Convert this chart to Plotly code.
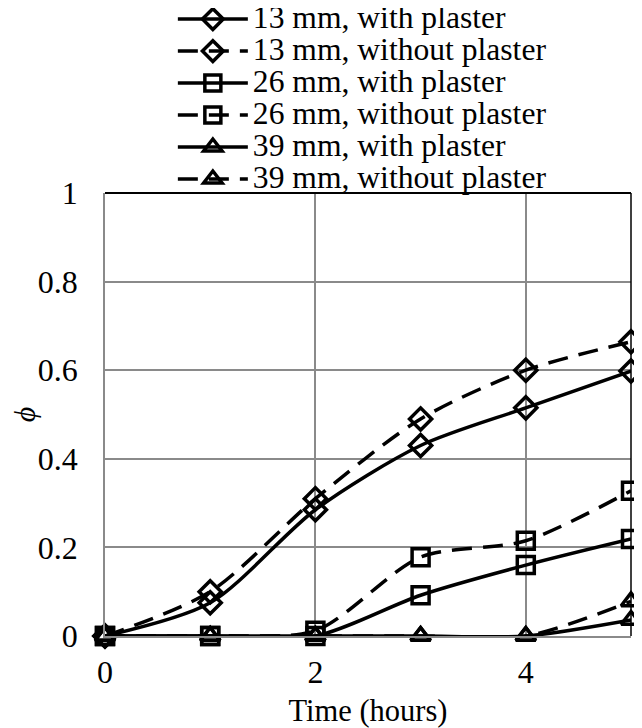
import plotly.graph_objects as go

time_h = [0, 1, 2, 3, 4, 5]
mm13_with = [0, 0.075, 0.285, 0.43, 0.515, 0.598]
mm13_without = [0, 0.10, 0.31, 0.49, 0.60, 0.664]
mm26_with = [0, 0, 0, 0.092, 0.16, 0.219]
mm26_without = [0, 0, 0.012, 0.178, 0.215, 0.328]
mm39_with = [0, 0, 0, 0, 0, 0.036]
mm39_without = [0, 0, 0, 0, 0, 0.078]

series_names = ["13 mm, with plaster", "13 mm, without plaster",
                "26 mm, with plaster", "26 mm, without plaster",
                "39 mm, with plaster", "39 mm, without plaster"]
series_values = [mm13_with, mm13_without, mm26_with, mm26_without, mm39_with, mm39_without]
symbols = ["diamond-open", "diamond-open", "square-open", "square-open",
           "triangle-up-open", "triangle-up-open"]
dashes = ["solid", "20px,11px", "solid", "20px,11px", "solid", "20px,11px"]

font = "Liberation Serif, Times New Roman, serif"
grid = "#8a8a8a"

fig = go.Figure()
for name, vals, sym, dash in zip(series_names, series_values, symbols, dashes):
    fig.add_trace(go.Scatter(
        x=time_h, y=vals,
        name='<span style="font-size:31.6px">' + name + '</span>',
        mode="lines+markers",
        line=dict(color="black", width=3.5, dash=dash, shape="spline", smoothing=0.8),
        marker=dict(symbol=sym, size=17, color="black", line=dict(width=3.5, color="black")),
        cliponaxis=False,
    ))

fig.update_layout(
    width=634, height=720,
    margin=dict(l=97, r=11, t=185, b=92, autoexpand=False),
    paper_bgcolor="white", plot_bgcolor="white",
    font=dict(family=font, size=32, color="black"),
    showlegend=True,
    legend=dict(x=0.129, y=1.440, xanchor="left", yanchor="top",
                font=dict(family=font, size=22.3, color="black"),
                bgcolor="rgba(0,0,0,0)", tracegroupgap=0, itemwidth=70,
                traceorder="normal"),
    xaxis=dict(range=[0, 5], tickvals=[0, 2, 4], showgrid=True, gridcolor=grid,
               gridwidth=1.5, zeroline=False, showline=True, linecolor=grid,
               linewidth=1.5, ticks="", automargin=False, ticklabelstandoff=7,
               title=dict(text="Time (hours)", standoff=14, font=dict(size=30.5)),
               tickfont=dict(size=32)),
    yaxis=dict(range=[0, 1], tickvals=[0, 0.2, 0.4, 0.6, 0.8, 1],
               ticktext=["0", "0.2", "0.4", "0.6", "0.8", "1"],
               showgrid=True, gridcolor=grid, gridwidth=1.5, zeroline=False,
               showline=True, linecolor=grid, linewidth=1.5, ticks="",
               automargin=False, ticklabelstandoff=19,
               title=dict(text="<i>ϕ</i>", standoff=10, font=dict(size=30)),
               tickfont=dict(size=32)),
    shapes=[
        dict(type="line", xref="paper", yref="paper", x0=0, x1=1, y0=1, y1=1,
             line=dict(color="black", width=2)),
        dict(type="line", xref="paper", yref="paper", x0=1, x1=1, y0=0, y1=1,
             line=dict(color="black", width=1.5)),
    ],
)
fig.write_html("out.html")
